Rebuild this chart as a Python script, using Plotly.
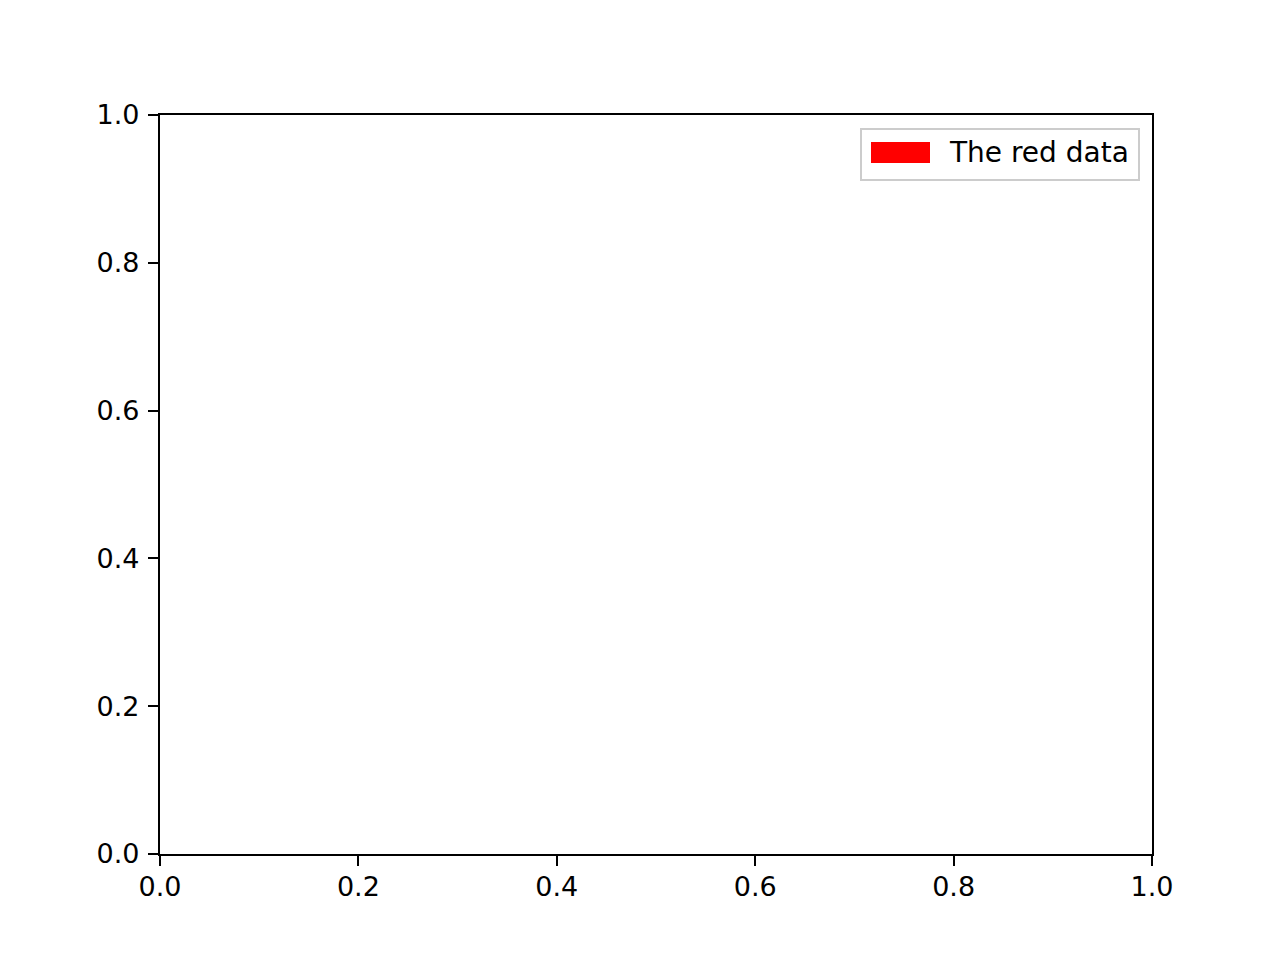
import plotly.graph_objects as go

# empty axes, only a proxy legend entry
x_range = [0.0, 1.0]
y_range = [0.0, 1.0]
tick_vals = [0.0, 0.2, 0.4, 0.6, 0.8, 1.0]
tick_text = ["0.0", "0.2", "0.4", "0.6", "0.8", "1.0"]
legend_labels = ["The red data"]
legend_colors = ["red"]

W, H = 1280, 960
OFF = 8  # page body offset in the screenshot
L, R, T, B = 160 - OFF, 128 + OFF, 115 - OFF, 106 + OFF
pw, ph = W - L - R, H - T - B


def px_x(v):
    return (v - OFF - L) / pw


def px_y(v):
    return (H - B - (v - OFF)) / ph


fig = go.Figure()

axis_style = dict(
    showgrid=False,
    zeroline=False,
    showline=True,
    linecolor="black",
    linewidth=2.2,
    mirror=True,
    ticks="outside",
    ticklen=10,
    tickwidth=2.2,
    tickcolor="black",
    tickvals=tick_vals,
    ticktext=tick_text,
    tickfont=dict(family="DejaVu Sans", size=27, color="black"),
)
fig.update_xaxes(range=x_range, ticklabelstandoff=-3, **axis_style)
fig.update_yaxes(range=y_range, ticklabelstandoff=3, **axis_style)

# legend frame + patch + label (matplotlib style)
shapes = [
    dict(type="rect", xref="paper", yref="paper",
         x0=px_x(861), x1=px_x(1139), y0=px_y(180), y1=px_y(129),
         line=dict(color="#cccccc", width=2), fillcolor="rgba(255,255,255,0.8)"),
]
annotations = []
for i, (lab, col) in enumerate(zip(legend_labels, legend_colors)):
    top = 142 + i * 40
    shapes.append(dict(type="rect", xref="paper", yref="paper",
                       x0=px_x(871), x1=px_x(930), y0=px_y(top + 21), y1=px_y(top),
                       line=dict(width=0), fillcolor=col))
    annotations.append(dict(xref="paper", yref="paper", x=px_x(947), y=px_y(top + 10),
                            text=lab, showarrow=False, xanchor="left", yanchor="middle",
                            font=dict(family="DejaVu Sans", size=28, color="black")))

fig.update_layout(
    width=W, height=H,
    margin=dict(l=L, r=R, t=T, b=B),
    plot_bgcolor="white",
    paper_bgcolor="white",
    showlegend=False,
    shapes=shapes,
    annotations=annotations,
)

fig.write_html("out.html")
